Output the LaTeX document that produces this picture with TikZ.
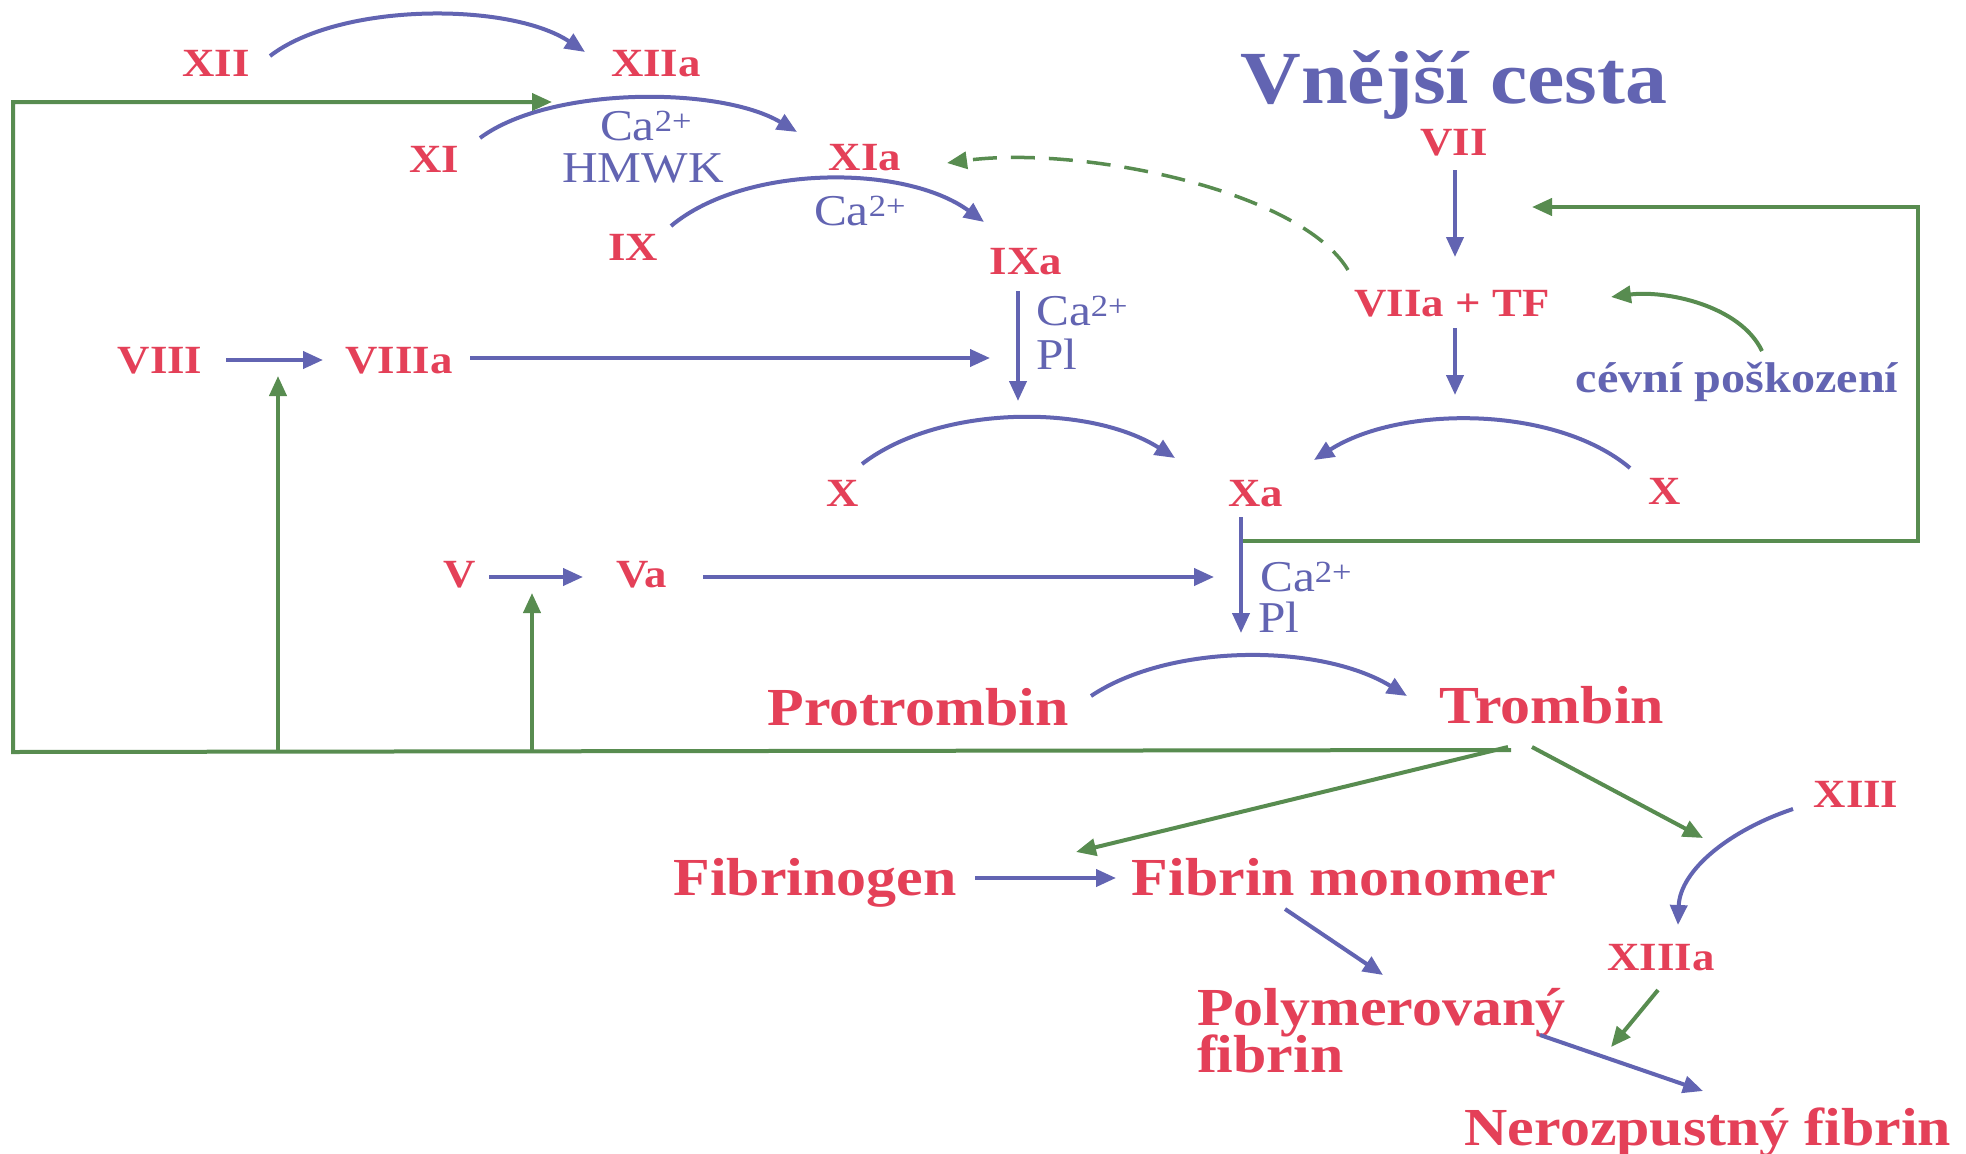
\documentclass[tikz,border=0pt]{standalone}
\usepackage{fontspec}
\setmainfont{Liberation Serif}[FakeStretch=1.12]
\usetikzlibrary{arrows.meta}
\definecolor{cred}{RGB}{228,64,88}
\definecolor{cblue}{RGB}{98,100,178}
\definecolor{cgreen}{RGB}{88,140,80}
\tikzset{
 fac/.style={text=cred, font=\fontsize{40}{44}\selectfont\bfseries, inner sep=0pt, outer sep=0pt, text height=27pt, text depth=0pt},
 big/.style={text=cred, font=\fontsize{53.5}{44}\selectfont\bfseries, inner sep=0pt, outer sep=0pt},
 bigc/.style={big, text height=35pt, text depth=0pt},
 ttl/.style={text=cblue, font=\fontsize{75}{80}\selectfont\bfseries, inner sep=0pt, text height=50pt, text depth=0pt},
 cof/.style={text=cblue, font=\fontsize{44}{40}\selectfont, inner sep=0pt, text height=29pt, text depth=0pt},
 cofb/.style={text=cblue, font=\fontsize{43}{40}\selectfont\bfseries, inner sep=0pt, text height=20pt, text depth=0pt},
 barr/.style={draw=cblue, line width=4pt, -{Triangle[length=20pt,width=17pt]}},
 garr/.style={draw=cgreen, line width=4pt, -{Triangle[length=20pt,width=17pt]}},
}
\begin{document}
\begin{tikzpicture}[x=1pt,y=-1pt]
\fill[white] (0,0) rectangle (1966,1154);
\useasboundingbox (0,0) rectangle (1966,1154);
% nodes
\node[fac] (XII) at (216,63) {XII};
\node[fac] (XIIa) at (656,63) {XIIa};
\node[fac] (XI) at (434,159) {XI};
\node[fac] (XIa) at (865,157) {XIa};
\node[fac] (IX) at (633,247) {IX};
\node[fac] (IXa) at (1026,261) {IXa};
\node[fac] (VIII) at (160,360) {VIII};
\node[fac] (VIIIa) at (399,360) {VIIIa};
\node[fac] (Xl) at (843,493) {X};
\node[fac] (Xa) at (1256,493) {Xa};
\node[fac] (Xr) at (1665,491) {X};
\node[fac] (V) at (460,574) {V};
\node[fac] (Va) at (642,574) {Va};
\node[fac] (VII) at (1454,142) {VII};
\node[fac] (VIIa) at (1452,303) {VIIa + TF};
\node[fac] (XIII) at (1856,794) {XIII};
\node[fac] (XIIIa) at (1661,957) {XIIIa};
\node[bigc] (Pro) at (918,708) {Protrombin};
\node[bigc] (Tro) at (1552,706) {Trombin};
\node[bigc] (Fbg) at (815,878) {Fibrinogen};
\node[bigc] (FM) at (1344,878) {Fibrin monomer};
\node[big, anchor=base west] (Pol) at (1197,1025) {\begin{tabular}[t]{@{}l@{}}Polymerovaný\\[-3pt]fibrin\end{tabular}};
\node[bigc] (Ner) at (1708,1128) {Nerozpustný fibrin};
\node[ttl] (T) at (1454,78) {Vnější cesta};
\node[cofb] (cev) at (1737,382) {cévní poškození};
\node[cof] (ca1) at (646,126) {Ca\textsuperscript{2+}};
\node[cof] (hm) at (643,168) {HMWK};
\node[cof] (ca2) at (860,211) {Ca\textsuperscript{2+}};
\node[cof, anchor=west] (ca3) at (1036,311) {Ca\textsuperscript{2+}};
\node[cof, anchor=west] (pl1) at (1036,355) {Pl};
\node[cof, anchor=west] (ca4) at (1260,577) {Ca\textsuperscript{2+}};
\node[cof, anchor=west] (pl2) at (1258,618) {Pl};
% coordinates of the feedback loops
\coordinate (bl) at (13,752);
\coordinate (tl) at (13,102);
\coordinate (b1) at (278,752);
\coordinate (b2) at (532,752);
\coordinate (rb) at (1918,541);
\coordinate (rt) at (1918,207);
% intrinsic pathway
\draw[barr] ([shift={(54,-7)}]XII.center) .. controls +(70,-54) and +(-75,-50) .. ([shift={(-71,-11)}]XIIa.center);
\draw[barr] ([shift={(46,-21)}]XI.center) .. controls +(70,-52) and +(-77,-46) .. ([shift={(-68,-25)}]XIa.center);
\draw[barr] ([shift={(38,-21)}]IX.center) .. controls +(74,-62) and +(-79,-58) .. ([shift={(-42,-39)}]IXa.center);
\draw[garr, dash pattern=on 24pt off 14pt, line width=3.5pt] ([shift={(-104,-33)}]VIIa.center) .. controls +(-48,-80) and +(133,-18) .. ([shift={(82,6)}]XIa.center);
\draw[barr] ([shift={(-8,30)}]IXa.center) -- ([shift={(-8,140)}]IXa.center);
\draw[barr] ([shift={(66,0)}]VIII.center) -- ([shift={(-76,0)}]VIIIa.center);
\draw[barr] ([shift={(71,-2)}]VIIIa.center) -- ([shift={(-36,97)}]IXa.center);
\draw[barr] ([shift={(19,-29)}]Xl.center) .. controls +(78,-60) and +(-85,-54) .. ([shift={(-81,-35)}]Xa.center);
\draw[barr] ([shift={(-35,-23)}]Xr.center) .. controls +(-75,-63) and +(86,-55) .. ([shift={(58,-33)}]Xa.center);
% extrinsic pathway
\draw[barr] ([shift={(1,28)}]VII.center) -- ([shift={(3,-46)}]VIIa.center);
\draw[barr] ([shift={(3,25)}]VIIa.center) -- ([shift={(3,92)}]VIIa.center);
\draw[garr] ([shift={(-13,48)}]Xa.center) -- (rb) -- (rt) -- ([shift={(78,65)}]VII.center);
\draw[garr] ([shift={(25,-31)}]cev.center) .. controls +(-22,-46) and +(54,-7) .. ([shift={(159,-6)}]VIIa.center);
% common pathway
\draw[barr] ([shift={(-15,24)}]Xa.center) -- ([shift={(-15,140)}]Xa.center);
\draw[barr] ([shift={(29,3)}]V.center) -- ([shift={(-59,3)}]Va.center);
\draw[barr] ([shift={(61,3)}]Va.center) -- ([shift={(-42,84)}]Xa.center);
\draw[garr] ([shift={(-41,44)}]Tro.center) -- (bl) -- (tl) -- ([shift={(-104,39)}]XIIa.center);
\draw[garr] (b1) -- ([shift={(118,16)}]VIII.center);
\draw[garr] (b2) -- ([shift={(72,19)}]V.center);
\draw[barr] ([shift={(173,-12)}]Pro.center) .. controls +(79,-53) and +(-87,-53) .. ([shift={(-145,-10)}]Tro.center);
\draw[garr] ([shift={(-44,41)}]Tro.center) -- ([shift={(-268,-26)}]FM.center);
\draw[garr] ([shift={(-20,41)}]Tro.center) -- ([shift={(-153,44)}]XIII.center);
\draw[barr] ([shift={(-63,15)}]XIII.center) .. controls +(-63,21) and +(2,-55) .. ([shift={(17,-32)}]XIIIa.center);
\draw[barr] ([shift={(160,0)}]Fbg.center) -- ([shift={(-228,0)}]FM.center);
\draw[barr] ([shift={(-59,31)}]FM.center) -- ([shift={(186,-50)}]Pol.base west);
\draw[garr] ([shift={(-3,33)}]XIIIa.center) -- ([shift={(-50,90)}]XIIIa.center);
\draw[barr] ([shift={(343,10)}]Pol.base west) -- ([shift={(-5,-37)}]Ner.center);
\end{tikzpicture}
\end{document}
